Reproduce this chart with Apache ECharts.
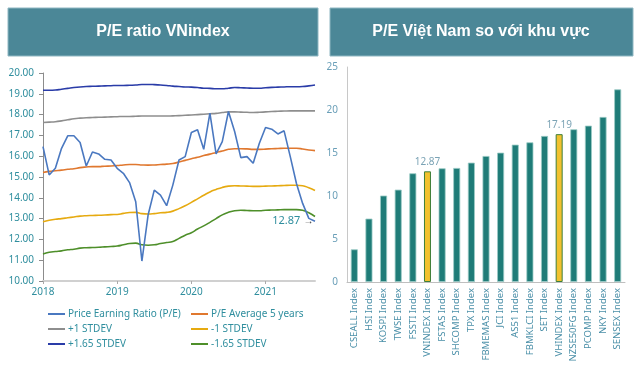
<!DOCTYPE html>
<html>
<head>
<meta charset="utf-8">
<script src="https://cdn.jsdelivr.net/npm/echarts@6/dist/echarts.min.js"></script>
<style>
  html, body { margin: 0; padding: 0; background: #fff; }
  #chart { width: 640px; height: 375px; }
</style>
</head>
<body>
<div id="chart"></div>
<script>
// monthly, Jan 2018 .. Sep 2021
var months = [];
for (var y = 2018; y <= 2021; y++) {
  for (var m = 1; m <= 12; m++) {
    if (y === 2021 && m > 9) break;
    months.push(y + '-' + (m < 10 ? '0' + m : m));
  }
}

var peRatio = [16.46, 15.10, 15.42, 16.38, 16.98, 16.98, 16.66, 15.53, 16.20, 16.11, 15.85, 15.82,
  15.42, 15.18, 14.73, 13.81, 10.96, 13.17, 14.37, 14.13, 13.62, 14.61, 15.82, 15.98,
  17.14, 17.27, 16.33, 18.07, 16.11, 16.70, 18.15, 17.19, 15.93, 15.98, 15.66, 16.62,
  17.38, 17.30, 17.07, 17.22, 15.98, 14.69, 13.73, 13.01, 12.87];
var peAvg5y = [15.22, 15.27, 15.30, 15.33, 15.37, 15.40, 15.45, 15.48, 15.50, 15.50, 15.52, 15.53,
  15.55, 15.58, 15.60, 15.60, 15.58, 15.57, 15.58, 15.60, 15.62, 15.65, 15.72, 15.80,
  15.88, 15.95, 16.03, 16.10, 16.18, 16.25, 16.33, 16.36, 16.36, 16.35, 16.33, 16.33,
  16.34, 16.36, 16.37, 16.38, 16.38, 16.38, 16.35, 16.30, 16.27];
var plus1 = [17.62, 17.64, 17.66, 17.70, 17.75, 17.80, 17.83, 17.85, 17.86, 17.87, 17.88, 17.89,
  17.90, 17.91, 17.91, 17.92, 17.93, 17.93, 17.93, 17.93, 17.93, 17.94, 17.95, 17.97,
  17.98, 18.00, 18.02, 18.04, 18.06, 18.10, 18.13, 18.13, 18.12, 18.11, 18.10, 18.11,
  18.13, 18.15, 18.16, 18.17, 18.18, 18.18, 18.18, 18.18, 18.18];
var minus1 = [12.85, 12.92, 12.97, 13.00, 13.04, 13.08, 13.12, 13.14, 13.15, 13.16, 13.17, 13.19,
  13.20, 13.25, 13.29, 13.30, 13.24, 13.22, 13.24, 13.28, 13.30, 13.36, 13.48, 13.62,
  13.78, 13.95, 14.12, 14.28, 14.40, 14.50, 14.56, 14.58, 14.57, 14.56, 14.55, 14.55,
  14.56, 14.57, 14.58, 14.59, 14.60, 14.60, 14.58, 14.48, 14.35];
var plus165 = [19.17, 19.17, 19.18, 19.22, 19.26, 19.30, 19.33, 19.35, 19.36, 19.37, 19.38, 19.39,
  19.40, 19.40, 19.41, 19.42, 19.45, 19.45, 19.44, 19.42, 19.40, 19.37, 19.35, 19.33,
  19.32, 19.30, 19.27, 19.26, 19.24, 19.24, 19.27, 19.30, 19.29, 19.28, 19.27, 19.27,
  19.29, 19.31, 19.32, 19.33, 19.34, 19.34, 19.35, 19.38, 19.42];
var minus165 = [11.30, 11.38, 11.42, 11.45, 11.50, 11.53, 11.58, 11.60, 11.61, 11.62, 11.64, 11.66,
  11.68, 11.74, 11.80, 11.82, 11.74, 11.72, 11.74, 11.80, 11.85, 11.90, 12.05, 12.20,
  12.32, 12.50, 12.65, 12.82, 13.00, 13.18, 13.30, 13.38, 13.40, 13.39, 13.38, 13.38,
  13.40, 13.41, 13.42, 13.43, 13.43, 13.43, 13.40, 13.28, 13.10];

var indexNames = ['CSEALL Index', 'HSI Index', 'KOSPI Index', 'TWSE Index', 'FSSTI Index', 'VNINDEX Index',
  'FSTAS Index', 'SHCOMP Index', 'TPX Index', 'FBMEMAS Index', 'JCI Index', 'AS51 Index',
  'FBMKLCI Index', 'SET Index', 'VHINDEX Index', 'NZSE50FG Index', 'PCOMP Index', 'NKY Index', 'SENSEX Index'];
var indexPE = [3.8, 7.37, 10.05, 10.74, 12.64, 12.87, 13.22, 13.26, 13.88, 14.65, 15.04, 15.97,
  16.24, 16.98, 17.19, 17.76, 18.18, 19.19, 22.4];
var highlighted = ['VNINDEX Index', 'VHINDEX Index'];

var chart = echarts.init(document.getElementById('chart'));

var teal = '#2F8E9E';
var lineNames = ['Price Earning Ratio (P/E)', 'P/E Average 5 years', '+1 STDEV', '-1 STDEV', '+1.65 STDEV', '-1.65 STDEV'];
var lineColors = ['#4A78C0', '#E0782F', '#8E8E8E', '#E6AA10', '#2A3CA8', '#4E8F2A'];
var lineData = [peRatio, peAvg5y, plus1, minus1, plus165, minus165];

var lastIdx = peRatio.length - 1;

var lineSeries = lineData.map(function (d, i) {
  var s = {
    name: lineNames[i],
    type: 'line',
    xAxisIndex: 0,
    yAxisIndex: 0,
    data: d,
    smooth: i !== 0,
    showSymbol: false,
    symbol: 'none',
    z: i === 0 ? 5 : 3,
    lineStyle: { color: lineColors[i], width: 1.6 },
    itemStyle: { color: lineColors[i] }
  };
  if (i === 0) {
    s.markPoint = {
      symbol: 'circle',
      symbolSize: 1,
      itemStyle: { color: 'rgba(0,0,0,0)' },
      data: [{ coord: [lastIdx, d[lastIdx]], value: d[lastIdx] }],
      label: {
        show: true,
        position: 'left',
        distance: 1,
        formatter: function (p) { return '{a|' + p.value.toFixed(2) + '} {b|→}'; },
        rich: {
          a: { color: teal, fontSize: 11 },
          b: { color: '#333', fontSize: 10 }
        }
      }
    };
  }
  return s;
});

var option = {
  animation: false,
  textStyle: { fontFamily: 'Noto Sans' },
  graphic: [
    {
      type: 'rect',
      shape: { x: 8, y: 8, width: 310, height: 48 },
      style: { fill: '#4B8797', stroke: '#8FB7C2', lineWidth: 1 }
    },
    {
      type: 'text',
      x: 163, y: 32,
      style: { text: 'P/E ratio VNindex', fill: '#fff', font: 'bold 16px "Liberation Sans"', textAlign: 'center', textVerticalAlign: 'middle' }
    },
    {
      type: 'rect',
      shape: { x: 330, y: 8, width: 303, height: 48 },
      style: { fill: '#4B8797', stroke: '#8FB7C2', lineWidth: 1 }
    },
    {
      type: 'text',
      x: 481, y: 32,
      style: { text: 'P/E Việt Nam so với khu vực', fill: '#fff', font: 'bold 16px "Liberation Sans"', textAlign: 'center', textVerticalAlign: 'middle' }
    }
  ],
  legend: [
    {
      data: [lineNames[0], lineNames[2], lineNames[4]],
      orient: 'vertical',
      left: 43, top: 304,
      itemWidth: 17, itemHeight: 10, itemGap: 5,
      icon: 'path://M0,4 L17,4 L17,6 L0,6 Z',
      textStyle: { color: teal, fontSize: 10, padding: [0, 0, 0, -2] }
    },
    {
      data: [lineNames[1], lineNames[3], lineNames[5]],
      orient: 'vertical',
      left: 186, top: 304,
      itemWidth: 17, itemHeight: 10, itemGap: 5,
      icon: 'path://M0,4 L17,4 L17,6 L0,6 Z',
      textStyle: { color: teal, fontSize: 10, padding: [0, 0, 0, -2] }
    }
  ],
  grid: [
    { left: 43, right: 325, top: 73, bottom: 94 },
    { left: 347, right: 15, top: 67, bottom: 93 }
  ],
  xAxis: [
    {
      type: 'category',
      gridIndex: 0,
      data: months,
      boundaryGap: false,
      axisLine: { lineStyle: { color: '#D0D0D0', width: 2 } },
      axisTick: {
        show: true,
        interval: function (idx) { return idx % 12 === 0; },
        lineStyle: { color: '#AAAAAA' },
        length: 3
      },
      axisLabel: {
        interval: function (idx) { return idx % 12 === 0; },
        formatter: function (v) { return v.slice(0, 4); },
        color: teal, fontSize: 10, margin: 6
      },
      splitLine: { show: false }
    },
    {
      type: 'category',
      gridIndex: 1,
      data: indexNames,
      axisLine: { lineStyle: { color: '#BFBFBF', width: 1 } },
      axisTick: { show: false },
      axisLabel: { rotate: 90, color: '#4A8FA8', fontSize: 9.5, margin: 6, interval: 0 }
    }
  ],
  yAxis: [
    {
      type: 'value',
      gridIndex: 0,
      min: 10, max: 20, interval: 1,
      axisLine: { show: true, lineStyle: { color: '#8C8C8C' } },
      axisTick: { show: true, length: 4, lineStyle: { color: '#8C8C8C' } },
      axisLabel: { color: teal, fontSize: 10, margin: 9, formatter: function (v) { return v.toFixed(2); } },
      splitLine: { show: false }
    },
    {
      type: 'value',
      gridIndex: 1,
      min: 0, max: 25, interval: 5,
      axisLine: { show: true, lineStyle: { color: '#C8C8C8' } },
      axisTick: { show: false },
      axisLabel: { color: '#6A9FB8', fontSize: 10, margin: 9 },
      splitLine: { show: false }
    }
  ],
  series: lineSeries.concat([
    {
      type: 'bar',
      xAxisIndex: 1,
      yAxisIndex: 1,
      barWidth: 7,
      data: indexPE.map(function (v, i) {
        var hl = highlighted.indexOf(indexNames[i]) >= 0;
        return {
          value: v,
          itemStyle: hl
            ? { color: '#F2C12E', borderColor: '#3E7F3A', borderWidth: 1 }
            : { color: '#1F7C78', borderColor: '#9CCBC6', borderWidth: 0.8 },
          label: hl
            ? { show: true, position: 'top', color: '#7BA3B5', fontSize: 10, distance: 4, formatter: function (p) { return p.value.toFixed(2); } }
            : { show: false }
        };
      })
    }
  ])
};

chart.setOption(option);
</script>
</body>
</html>
